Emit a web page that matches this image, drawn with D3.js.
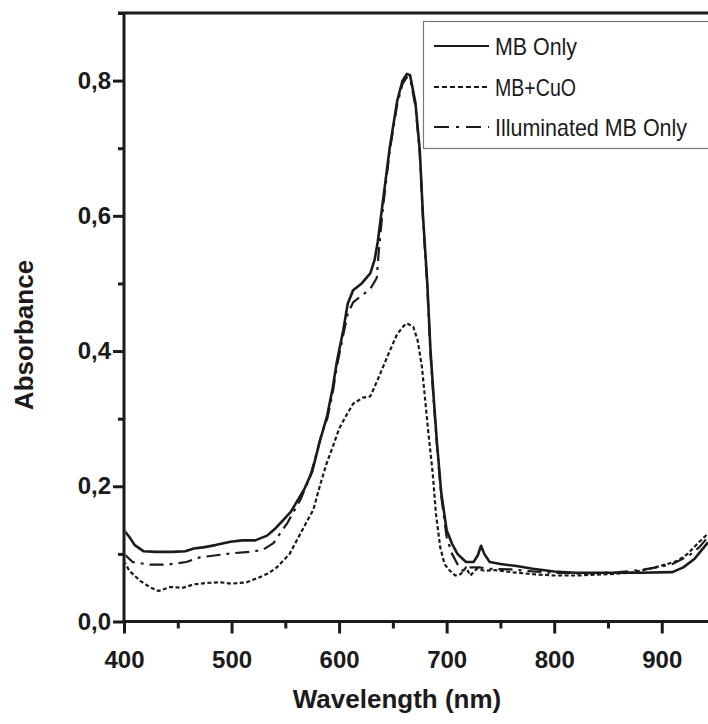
<!DOCTYPE html>
<html>
<head>
<meta charset="utf-8">
<script src="https://cdn.jsdelivr.net/npm/d3@7"></script>
<style>
  html, body { margin: 0; padding: 0; background: #fff; }
  svg { display: block; font-family: "Liberation Sans", Arial, sans-serif; }
</style>
</head>
<body>
<svg id="chart" width="708" height="724"></svg>
<script>
// spectra: [wavelength nm, absorbance]
const mbOnly = [
  [400,0.135],[405,0.125],[410,0.113],[418,0.104],[430,0.103],[445,0.103],[457,0.104],
  [465,0.108],[475,0.11],[485,0.113],[499,0.118],[510,0.12],[522,0.12],[533,0.127],
  [541,0.138],[548,0.15],[555,0.162],[561,0.178],[568,0.197],[575,0.222],[582,0.266],
  [589,0.305],[594,0.345],[598,0.385],[604,0.432],[608,0.47],[613,0.49],[621,0.5],
  [629,0.515],[633,0.535],[636,0.562],[641,0.625],[647,0.7],[654,0.77],[659,0.8],
  [663,0.81],[666,0.808],[671,0.767],[675,0.697],[678,0.6],[682,0.5],[685,0.4],
  [688,0.33],[691,0.264],[695,0.19],[700,0.135],[705,0.115],[710,0.1],[718,0.088],
  [725,0.088],[729,0.098],[732,0.112],[735,0.1],[740,0.088],[750,0.085],[765,0.082],
  [780,0.078],[800,0.074],[820,0.072],[850,0.072],[880,0.072],[910,0.073],[920,0.08],
  [930,0.092],[943,0.117]
];
const mbCuO = [
  [400,0.09],[405,0.075],[415,0.06],[425,0.05],[432,0.045],[443,0.051],[455,0.05],
  [465,0.055],[477,0.057],[490,0.058],[500,0.056],[514,0.058],[527,0.066],[535,0.072],
  [542,0.08],[548,0.09],[554,0.1],[559,0.115],[564,0.13],[570,0.148],[576,0.165],
  [582,0.2],[588,0.232],[594,0.258],[600,0.285],[606,0.303],[613,0.322],[622,0.331],
  [629,0.333],[633,0.347],[641,0.377],[647,0.4],[654,0.425],[660,0.437],[663,0.441],
  [669,0.436],[673,0.416],[677,0.377],[680,0.328],[683,0.279],[687,0.22],[690,0.16],
  [694,0.11],[698,0.085],[703,0.075],[708,0.068],[713,0.07],[718,0.08],[722,0.068],
  [728,0.078],[735,0.075],[745,0.076],[760,0.073],[780,0.07],[800,0.068],[820,0.068],
  [850,0.07],[870,0.072],[889,0.078],[905,0.085],[915,0.09],[924,0.1],[935,0.118],[943,0.13]
];
const illuminated = [
  [400,0.1],[408,0.088],[424,0.084],[440,0.084],[458,0.088],[471,0.095],[486,0.098],
  [501,0.101],[517,0.103],[529,0.106],[539,0.116],[545,0.13],[552,0.146],[558,0.163],
  [564,0.18],[573,0.214],[579,0.249],[584,0.279],[589,0.3],[594,0.338],[598,0.378],
  [604,0.425],[608,0.455],[613,0.472],[621,0.482],[629,0.492],[635,0.508],[637,0.55],
  [641,0.615],[647,0.695],[654,0.765],[659,0.795],[663,0.805],[666,0.803],[671,0.762],
  [675,0.692],[678,0.595],[682,0.495],[685,0.395],[688,0.325],[691,0.26],[695,0.185],
  [700,0.125],[705,0.1],[710,0.085],[715,0.075],[722,0.08],[730,0.08],[740,0.078],
  [760,0.077],[780,0.074],[800,0.072],[830,0.071],[860,0.073],[880,0.076],[895,0.08],
  [910,0.085],[925,0.097],[935,0.11],[943,0.125]
];

const seriesNames = ["MB Only", "MB+CuO", "Illuminated MB Only"];
const xTicks = [400, 500, 600, 700, 800, 900];
const yTicks = [0, 0.2, 0.4, 0.6, 0.8];

const series = [
  { name: seriesNames[0], data: mbOnly, dash: null, width: 2.6 },
  { name: seriesNames[1], data: mbCuO, dash: "4,2.5", width: 2.2 },
  { name: seriesNames[2], data: illuminated, dash: "14,6,3,6", width: 2.2 }
];

const INK = "#1c1a1b";
const svg = d3.select("#chart");

const x = d3.scaleLinear().domain([400, 943]).range([124, 708]);
const y = d3.scaleLinear().domain([0, 0.9]).range([621.5, 13]);

const comma = d3.formatLocale({ decimal: ",", thousands: ".", grouping: [3], currency: ["", ""] }).format(".1f");

// minor ticks first, then major ones on top
const xMinor = svg.append("g").attr("transform", `translate(0,${y(0)})`)
  .call(d3.axisBottom(x).tickValues([450, 550, 650, 750, 850]).tickSize(7).tickFormat(""));
const yMinor = svg.append("g").attr("transform", `translate(${x(400)},0)`)
  .call(d3.axisLeft(y).tickValues([0.1, 0.3, 0.5, 0.7, 0.9]).tickSize(6).tickFormat(""));

const xAxis = svg.append("g").attr("transform", `translate(0,${y(0)})`)
  .call(d3.axisBottom(x).tickValues(xTicks).tickSize(12).tickFormat(d3.format("d")));
const yAxis = svg.append("g").attr("transform", `translate(${x(400)},0)`)
  .call(d3.axisLeft(y).tickValues(yTicks).tickSize(11).tickPadding(2).tickFormat(comma));

[xMinor, yMinor, xAxis, yAxis].forEach(g => {
  g.select(".domain").remove();
  g.selectAll("line").attr("stroke", INK).attr("stroke-width", 3);
});

xAxis.selectAll("text")
  .attr("y", 46.5).attr("dy", null)
  .attr("fill", INK).style("font-size", "24px").style("font-weight", "bold");
yAxis.selectAll("text")
  .attr("fill", INK).style("font-size", "24px").style("font-weight", "bold");

// frame: left axis, bottom axis, top border
svg.append("path")
  .attr("d", `M${x(400)},${y(0.9)}V${y(0)}M${x(400) - 1.5},${y(0)}H708M${x(400) - 6},${y(0.9)}H708`)
  .attr("stroke", INK).attr("stroke-width", 3).attr("fill", "none");

// curves
const line = d3.line().x(d => x(d[0])).y(d => y(d[1]));
svg.append("clipPath").attr("id", "plot")
  .append("rect").attr("x", x(400) + 1.5).attr("y", y(0.9) + 1.5)
  .attr("width", 708 - x(400)).attr("height", y(0) - y(0.9) - 3);

svg.append("g").attr("clip-path", "url(#plot)")
  .selectAll("path")
  .data(series)
  .join("path")
  .attr("d", d => line(d.data))
  .attr("fill", "none")
  .attr("stroke", INK)
  .attr("stroke-width", d => d.width)
  .attr("stroke-dasharray", d => d.dash)
  .attr("stroke-linejoin", "round");

// legend (narrow-looking type, so squeeze the text to the widths in the figure)
const legend = svg.append("g");
legend.append("rect")
  .attr("x", 423.5).attr("y", 21.5).attr("width", 300).attr("height", 127)
  .attr("fill", "#fff").attr("stroke", "#777").attr("stroke-width", 1.2);

const legendDash = [null, "5,3", "15,7,3,7"];
const legendWidth = [82, 81, 192];
const rowY = [46, 87, 127];
series.forEach((s, i) => {
  legend.append("line")
    .attr("x1", 434).attr("x2", 489).attr("y1", rowY[i]).attr("y2", rowY[i])
    .attr("stroke", INK).attr("stroke-width", 2.2)
    .attr("stroke-dasharray", legendDash[i]);
  legend.append("text")
    .attr("x", 495).attr("y", rowY[i] + 9)
    .attr("textLength", legendWidth[i]).attr("lengthAdjust", "spacingAndGlyphs")
    .attr("fill", INK).style("font-size", "24px")
    .text(s.name);
});

// axis titles
svg.append("text")
  .attr("x", 397).attr("y", 708)
  .attr("text-anchor", "middle")
  .attr("fill", INK).style("font-size", "26px").style("font-weight", "bold")
  .text("Wavelength (nm)");

svg.append("text")
  .attr("transform", "translate(33,335) rotate(-90)")
  .attr("text-anchor", "middle")
  .attr("fill", INK).style("font-size", "26px").style("font-weight", "bold")
  .text("Absorbance");
</script>
</body>
</html>
